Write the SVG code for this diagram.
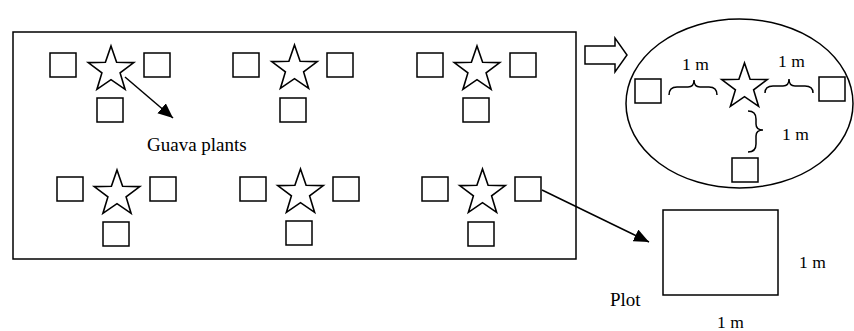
<svg xmlns="http://www.w3.org/2000/svg" xmlns:xlink="http://www.w3.org/1999/xlink" width="854" height="331" viewBox="0 0 854 331">
<style>
.ln{fill:none;stroke:#000;stroke-width:1.5}
.sq{fill:#fff;stroke:#000;stroke-width:1.5}
.st{fill:#fff;stroke:#000;stroke-width:1.6;stroke-linejoin:miter}
text{font-family:'Liberation Serif','DejaVu Serif',serif;fill:#000}
.tx{font-size:17.5px}
.tl{font-size:19px}
</style>
<defs>
<path id="star" d="M0,-24 L5.6,-7.7 L22.8,-7.4 L9.1,2.9 L14.1,19.4 L0,9.6 L-14.1,19.4 L-9.1,2.9 L-22.8,-7.4 L-5.6,-7.7 Z"/>
<rect id="sq" width="26" height="24"/>
<marker id="ah" markerUnits="userSpaceOnUse" markerWidth="16" markerHeight="14" refX="15" refY="6.5" orient="auto">
<path d="M0,0 L15,6.5 L0,13 Z" fill="#000"/>
</marker>
</defs>
<rect id="field" x="13" y="32" width="563" height="227" class="ln"/>
<g id="plant1"><use xlink:href="#sq" x="50" y="53" class="sq"/><use xlink:href="#star" x="111" y="70" class="st"/><use xlink:href="#sq" x="144" y="53" class="sq"/><use xlink:href="#sq" x="97" y="98" class="sq"/></g>
<g id="plant2"><use xlink:href="#sq" x="233" y="53" class="sq"/><use xlink:href="#star" x="294.5" y="69" class="st"/><use xlink:href="#sq" x="327" y="53" class="sq"/><use xlink:href="#sq" x="280" y="98" class="sq"/></g>
<g id="plant3"><use xlink:href="#sq" x="417" y="53" class="sq"/><use xlink:href="#star" x="477" y="70" class="st"/><use xlink:href="#sq" x="510" y="53" class="sq"/><use xlink:href="#sq" x="463" y="98" class="sq"/></g>
<g id="plant4"><use xlink:href="#sq" x="57" y="177" class="sq"/><use xlink:href="#star" x="117" y="194" class="st"/><use xlink:href="#sq" x="150" y="177" class="sq"/><use xlink:href="#sq" x="103" y="222" class="sq"/></g>
<g id="plant5"><use xlink:href="#sq" x="240" y="177" class="sq"/><use xlink:href="#star" x="300.5" y="193" class="st"/><use xlink:href="#sq" x="333" y="177" class="sq"/><use xlink:href="#sq" x="286" y="221" class="sq"/></g>
<g id="plant6"><use xlink:href="#sq" x="422" y="177" class="sq"/><use xlink:href="#star" x="482.5" y="193" class="st"/><use xlink:href="#sq" x="515" y="177" class="sq"/><use xlink:href="#sq" x="468" y="222" class="sq"/></g>
<g id="label-guava"><text class="tl" x="147" y="151">Guava plants</text></g>
<g id="detail">
<ellipse cx="739.5" cy="103.5" rx="113.5" ry="84.5" class="ln"/>
<use xlink:href="#sq" x="635" y="79" class="sq"/>
<use xlink:href="#star" x="744.5" y="87" class="st"/>
<use xlink:href="#sq" x="819" y="77" class="sq"/>
<use xlink:href="#sq" x="732" y="158" class="sq"/>
<path class="ln" d="M669,95 Q669,87 677,87 L688,87 Q694,87 694,80 Q694,87 700,87 L709,87 Q717,87 717,95"/>
<path class="ln" d="M765,93 Q765,86 773,86 L783,86 Q789,86 789,79 Q789,86 795,86 L805,86 Q813,86 813,93"/>
<path class="ln" d="M748,111 Q756,111 756,119 L756,124 Q756,130 763,130 Q756,130 756,136 L756,144 Q756,152 748,152"/>
<text class="tx" x="682" y="70">1 m</text>
<text class="tx" x="778" y="67">1 m</text>
<text class="tx" x="782" y="140">1 m</text>
</g>
<g id="plot">
<rect x="663" y="210" width="115" height="85" class="ln"/>
<text class="tx" x="799" y="268">1 m</text>
<text class="tl" x="610" y="306">Plot</text>
<text class="tx" x="717" y="328">1 m</text>
</g>
<g id="connectors">
<line x1="125" y1="77" x2="173" y2="118" stroke="#000" stroke-width="1.5" marker-end="url(#ah)"/>
<line x1="542" y1="190" x2="649" y2="242" stroke="#000" stroke-width="1.5" marker-end="url(#ah)"/>
<polygon points="585,46 615,46 615,38 627,55 615,72 615,64 585,64" class="sq"/>
</g>
</svg>
